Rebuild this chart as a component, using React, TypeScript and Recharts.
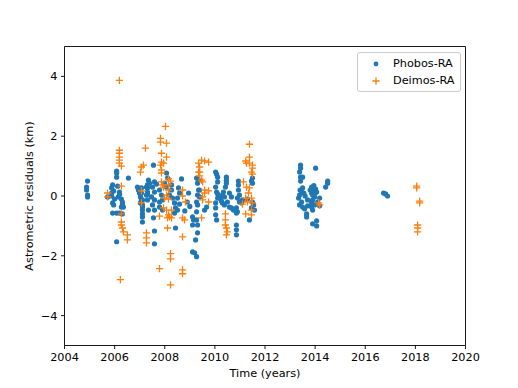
import React from "react";
import {
  ScatterChart,
  Scatter,
  XAxis,
  YAxis,
  ReferenceLine,
  Legend,
} from "recharts";

// [time (years), residual (km)]
const phobosRA: [number, number][] = [
  [2004.92, 0.5], [2004.88, 0.3], [2004.88, 0.2], [2004.92, 0.03], [2004.92, -0.03],
  [2005.72, -0.03],
  [2006.08, 0.83], [2006.08, 0.77], [2006.08, 0.63], [2005.92, 0.37], [2006.12, 0.33],
  [2005.88, 0.27], [2005.96, 0.17], [2005.88, 0.1], [2006.19, 0.13], [2006.15, -0.03],
  [2006.27, -0.1], [2006.31, -0.2], [2006.31, -0.27], [2006.35, -0.37], [2006.27, -0.37],
  [2005.92, -0.23], [2005.96, -0.3], [2005.92, -0.57], [2006.08, -0.57], [2006.19, -0.57],
  [2006.31, -0.6], [2006.08, -1.53], [2006.55, 0.6], [2005.88, 0.0], [2006.0, -0.1], [2006.2, 0.05],
  [2006.91, 0.3], [2006.95, 0.2], [2006.99, 0.1], [2007.03, -0.03], [2007.07, -0.13],
  [2007.03, -0.23], [2007.11, -0.37], [2007.11, -0.6], [2007.11, -0.87],
  [2007.31, 0.37], [2007.31, 0.27], [2007.31, 0.07], [2007.31, -0.13], [2007.35, -0.47],
  [2007.55, 1.03], [2007.35, 0.53], [2007.39, 0.43], [2007.27, 0.3], [2007.31, 0.13], [2007.27, 0.03],
  [2007.07, 0.27], [2007.07, 0.1], [2007.11, -0.13], [2007.11, -0.3], [2007.11, -0.47], [2007.11, -0.7],
  [2007.59, 0.47], [2007.67, 0.4], [2007.51, 0.3], [2007.59, 0.13], [2007.47, -0.03],
  [2007.59, -0.13], [2007.51, -0.3], [2007.59, -0.47], [2007.55, -0.73], [2007.59, -1.17],
  [2008.07, 0.77], [2008.11, 0.6], [2007.99, 0.43], [2008.07, 0.3], [2008.27, 0.37], [2008.27, 0.2],
  [2008.19, 0.03], [2008.31, -0.07], [2008.39, -0.23], [2008.43, -0.4], [2008.39, -0.57],
  [2008.67, 0.57], [2008.55, 0.27], [2008.59, 0.1], [2008.51, -0.07], [2008.59, -0.27],
  [2008.51, -0.47], [2008.43, -1.07], [2007.59, -1.6],
  [2007.79, 0.2], [2007.87, 0.03], [2007.79, -0.2], [2007.91, -0.13], [2007.79, -0.37], [2007.91, -0.47],
  [2008.8, -0.5], [2008.9, -0.2], [2008.95, 0.1], [2009.0, -0.35],
  [2009.11, -0.7], [2009.15, -0.8], [2009.11, -0.97], [2009.23, -1.47], [2009.11, -1.87],
  [2009.19, -1.9], [2009.27, -2.03], [2009.35, 0.53], [2009.35, 0.2],
  [2009.27, 0.6], [2009.31, 0.43], [2009.39, 0.2], [2009.31, 0.03], [2009.39, -0.03],
  [2009.27, -0.2], [2009.31, -0.3], [2009.67, -0.37], [2009.59, -0.47], [2009.27, -0.53],
  [2009.27, -0.8], [2009.31, -0.97], [2009.31, -1.23],
  [2010.03, 0.8], [2010.07, 0.73], [2010.11, 0.63], [2010.11, 0.47], [2010.03, 0.3], [2010.07, 0.13],
  [2010.11, 0.07], [2010.11, -0.07], [2010.03, -0.23], [2010.03, -0.4], [2010.03, -0.63], [2010.07, -0.8],
  [2010.46, 0.63], [2010.46, 0.53], [2010.46, 0.43], [2010.42, 0.3], [2010.34, 0.13], [2010.3, 0.03],
  [2010.38, -0.03], [2010.19, -0.07], [2010.26, -0.17], [2010.3, -0.23], [2010.38, -0.3], [2010.5, -0.2],
  [2010.58, -0.37], [2010.66, -0.4], [2010.74, -0.47], [2010.86, -0.4], [2010.86, -0.57], [2010.9, -0.53],
  [2010.58, 0.1], [2010.66, -0.03], [2010.9, -0.07], [2010.98, -0.2], [2011.1, -0.13], [2011.06, -0.23],
  [2010.94, 0.5], [2010.94, 0.37], [2010.94, 0.2], [2010.98, 0.03],
  [2010.86, -0.97], [2010.86, -1.13], [2010.86, -1.3],
  [2011.5, 0.6], [2011.5, 0.43], [2011.46, 0.5], [2011.3, -0.1], [2011.55, -0.3], [2011.5, -0.2],
  [2011.46, -0.4], [2011.58, -0.47], [2011.38, -0.8],
  [2013.42, 1.03], [2013.42, 0.93], [2013.38, 0.8], [2013.42, 0.63], [2013.5, 0.63], [2013.42, 0.5],
  [2014.02, 0.93], [2014.5, 0.5], [2014.5, 0.43], [2014.42, 0.3],
  [2013.5, 0.27], [2013.46, 0.13], [2013.38, 0.03], [2013.34, -0.07], [2013.46, -0.2], [2013.38, -0.3],
  [2013.5, -0.37], [2013.58, -0.43],
  [2013.86, 0.3], [2013.9, 0.23], [2014.02, 0.23], [2014.06, 0.13], [2013.86, 0.1], [2013.9, 0.03],
  [2013.98, -0.03], [2013.9, -0.13], [2013.86, -0.23], [2013.98, -0.3], [2013.86, -0.37], [2013.9, -0.47],
  [2013.66, -0.6], [2013.66, -0.7], [2014.18, -0.07], [2014.1, -0.2], [2014.18, -0.33],
  [2013.9, -0.93], [2014.06, -0.83], [2014.06, -1.0], [2013.7, -0.13], [2013.7, -0.33],
  [2013.4, 0.2], [2013.55, 0.1], [2013.6, 0.0], [2013.8, 0.2], [2014.0, 0.1], [2013.95, 0.35],
  [2016.73, 0.1], [2016.81, 0.07], [2016.89, 0.0],
];

const deimosRA: [number, number][] = [
  [2005.72, 0.1], [2005.72, -0.03],
  [2006.19, 3.87],
  [2006.19, 1.53], [2006.19, 1.43], [2006.19, 1.3], [2006.19, 1.2], [2006.19, 1.1], [2006.27, 1.0],
  [2006.27, 0.33],
  [2006.27, -0.6], [2006.27, -0.87], [2006.27, -0.97], [2006.31, -1.07], [2006.35, -1.2],
  [2006.51, -1.3], [2006.51, -1.47], [2006.23, -2.8],
  [2007.23, 1.6], [2007.15, 1.03], [2007.07, 0.97], [2007.03, 0.8], [2007.07, 0.17], [2007.07, -0.23],
  [2007.27, -1.23], [2007.27, -1.4], [2007.27, -1.57],
  [2008.03, 2.33], [2007.83, 1.93], [2007.83, 1.8], [2008.07, 1.77], [2007.87, 1.43], [2008.07, 1.3],
  [2007.87, 1.13], [2007.95, 1.1], [2007.83, 1.03], [2007.87, 0.87], [2007.87, 0.77],
  [2008.15, 0.57], [2008.23, 0.5], [2007.87, 0.47], [2007.91, 0.37], [2007.95, 0.3],
  [2008.15, 0.37], [2008.15, 0.2],
  [2009.35, 1.1], [2009.35, 0.8],
  [2008.71, 0.2], [2008.71, 0.0], [2008.83, -0.2],
  [2008.07, 0.03], [2007.99, -0.07], [2008.15, -0.1],
  [2007.95, -0.4], [2008.07, -0.47], [2008.27, -0.47],
  [2007.79, -0.67], [2008.15, -0.63], [2008.11, -0.73], [2008.19, -0.7], [2008.27, -0.73],
  [2008.71, -0.73], [2008.79, -0.8], [2008.11, -1.07], [2008.71, -1.37],
  [2008.23, -1.93], [2008.23, -2.1], [2007.79, -2.43], [2008.71, -2.47], [2008.71, -2.6], [2008.23, -2.97],
  [2011.38, 1.73], [2011.38, 1.3], [2011.23, 1.17], [2011.26, 1.1], [2011.38, 1.1], [2011.5, 1.03],
  [2011.5, 0.93], [2011.46, 0.8], [2011.5, 0.73],
  [2009.47, 1.2], [2009.59, 1.17], [2009.75, 1.13], [2009.39, 0.97], [2009.39, 0.8], [2009.39, 0.67],
  [2009.47, 0.53], [2009.51, 0.47],
  [2009.59, 0.2], [2009.59, 0.1], [2009.75, 0.17], [2009.51, -0.03], [2009.51, -0.13], [2009.75, -0.2],
  [2009.47, -0.73],
  [2010.42, -0.6], [2010.42, -0.8], [2010.42, -0.97], [2010.46, -1.07], [2010.5, -1.2], [2010.46, -1.3],
  [2011.14, 0.47], [2011.26, 0.3], [2011.38, 0.27], [2011.34, 0.1], [2011.23, -0.07], [2011.46, -0.07],
  [2011.3, -0.2], [2011.5, -0.23], [2011.1, -0.27], [2011.46, -0.47], [2011.23, -0.6], [2011.46, -0.63],
  [2014.14, -0.23], [2014.18, -0.3],
  [2018.05, 0.33], [2018.05, 0.27], [2018.17, -0.17], [2018.17, -0.23],
  [2018.09, -0.97], [2018.09, -1.07], [2018.09, -1.2],
];

const xTicks = [2004, 2006, 2008, 2010, 2012, 2014, 2016, 2018, 2020];
const yTicks = [-4, -2, 0, 2, 4];

const BLUE = "#1f77b4";
const ORANGE = "#ff7f0e";
const FONT = "'DejaVu Sans', sans-serif";

const toPoints = (arr: [number, number][]) => arr.map(([x, y]) => ({ x, y }));

const fmtY = (v: number) => (v < 0 ? `\u2212${Math.abs(v)}` : `${v}`);

const DotShape = (p: any) => <circle cx={p.cx} cy={p.cy} r={2.6} fill={BLUE} />;

const PlusShape = (p: any) => (
  <path
    d={`M${p.cx - 3.6},${p.cy}h7.2M${p.cx},${p.cy - 3.6}v7.2`}
    stroke={ORANGE}
    strokeWidth={1.3}
    fill="none"
  />
);

const LegendBox = () => (
  <div
    style={{
      width: 102,
      height: 38,
      border: "1px solid #cccccc",
      borderRadius: 3,
      background: "rgba(255,255,255,0.8)",
      fontFamily: FONT,
      fontSize: 11.25,
      color: "#000",
      position: "relative",
    }}
  >
    <svg width={30} height={38} style={{ position: "absolute", left: 0, top: 0 }}>
      <circle cx={18} cy={11} r={2.4} fill={BLUE} />
      <path d="M14.4,28h7.2M18,24.4v7.2" stroke={ORANGE} strokeWidth={1.3} />
    </svg>
    <div style={{ position: "absolute", left: 35, top: 3, lineHeight: "16px" }}>Phobos-RA</div>
    <div style={{ position: "absolute", left: 35, top: 20, lineHeight: "16px" }}>Deimos-RA</div>
  </div>
);

export default function App() {
  const axisTick = { fill: "#000", fontSize: 11.25, fontFamily: FONT };
  return (
    <div style={{ position: "absolute", left: 0, top: 0, background: "#fff", fontFamily: FONT }}>
      <ScatterChart
        width={518}
        height={388}
        margin={{ top: 46.5, right: 52.5, bottom: 0, left: 0 }}
      >
        <XAxis
          type="number"
          dataKey="x"
          domain={[2004, 2020]}
          ticks={xTicks}
          height={42.5}
          tick={axisTick}
          tickSize={3.5}
          tickMargin={4}
          stroke="#000"
          axisLine={{ stroke: "#000", strokeWidth: 0.9 }}
          tickLine={{ stroke: "#000", strokeWidth: 0.9 }}
          allowDataOverflow
          label={{
            value: "Time (years)",
            position: "insideBottom",
            offset: 11.5,
            fill: "#000",
            fontSize: 11.25,
            fontFamily: FONT,
          }}
        />
        <YAxis
          type="number"
          dataKey="y"
          domain={[-5, 5]}
          ticks={yTicks}
          width={64.5}
          tick={axisTick}
          tickFormatter={fmtY}
          tickSize={3.5}
          tickMargin={3.5}
          stroke="#000"
          axisLine={{ stroke: "#000", strokeWidth: 0.9 }}
          tickLine={{ stroke: "#000", strokeWidth: 0.9 }}
          allowDataOverflow
          label={{
            value: "Astrometric residuals (km)",
            angle: -90,
            position: "insideLeft",
            offset: 29.5,
            fill: "#000",
            fontSize: 11.25,
            fontFamily: FONT,
            style: { textAnchor: "middle" },
          }}
        />
        <ReferenceLine y={5} stroke="#000" strokeWidth={0.9} />
        <ReferenceLine x={2020} stroke="#000" strokeWidth={0.9} />
        <Scatter
          name="Phobos-RA"
          data={toPoints(phobosRA)}
          shape={DotShape}
          isAnimationActive={false}
        />
        <Scatter
          name="Deimos-RA"
          data={toPoints(deimosRA)}
          shape={PlusShape}
          isAnimationActive={false}
        />
        <Legend
          layout="horizontal"
          verticalAlign="middle"
          align="center"
          content={LegendBox}
          wrapperStyle={{ left: 357, top: 52, width: 104, height: 40 }}
        />
      </ScatterChart>
    </div>
  );
}
